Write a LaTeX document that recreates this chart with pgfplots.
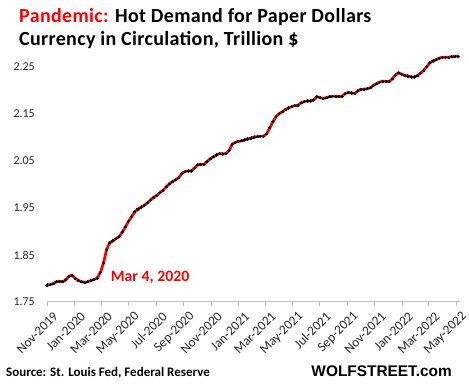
\documentclass[border=0pt]{standalone}
\usepackage{pgfplots}
\pgfplotsset{compat=1.18}
\usepackage{fontspec}
\setmainfont{Carlito}
\newfontfamily\arialfont{Liberation Sans}
\newfontfamily\titlefont[LetterSpace=1.7]{Carlito}
\definecolor{gridgray}{HTML}{D9D9D9}
\definecolor{axgray}{HTML}{BFBFBF}
\definecolor{ttred}{HTML}{FF0000}
\definecolor{txt}{HTML}{262626}
\begin{document}
\begin{tikzpicture}[x=1pt,y=1pt]
\begin{axis}[
  at={(47pt,89pt)}, anchor=south west,
  scale only axis, width=413pt, height=249pt,
  xmin=0, xmax=921, ymin=1.75, ymax=2.28,
  axis line style={draw=none},
  axis x line*=bottom,
  axis y line=none,
  ytick={1.75,1.85,1.95,2.05,2.15,2.25},
  yticklabels={1.75,1.85,1.95,2.05,2.15,2.25},
  xtick={0,61,121,182,243,305,366,427,486,547,608,670,731,792,851,912},
  xticklabels={Nov-2019,Jan-2020,Mar-2020,May-2020,Jul-2020,Sep-2020,Nov-2020,Jan-2021,Mar-2021,May-2021,Jul-2021,Sep-2021,Nov-2021,Jan-2022,Mar-2022,May-2022},
  tick align=outside, major tick length=4pt,
  xtick style={draw=axgray, line width=0.8pt},
  ymajorgrids, grid style={draw=gridgray, line width=1pt},
  xticklabel style={rotate=45, anchor=east, font=\fontsize{13.3}{15}\selectfont, text=txt, inner sep=0pt, xshift=0.5pt, yshift=-12pt},
  /pgf/number format/assume math mode=true,
  clip=false,
]
\addplot[draw=axgray, line width=1pt, forget plot] coordinates {(0,1.75) (921,1.75)};
\addplot[ttred, line width=2.8pt, mark=*, mark size=1.1pt, mark options={fill=black, draw=black, line width=0pt}] coordinates {
(0,1.786) (7,1.787) (14,1.789) (21,1.793) (28,1.794) (35,1.793) (42,1.797) (49,1.805) (56,1.807) (63,1.800)
(70,1.796) (77,1.793) (84,1.792) (91,1.793) (98,1.796) (105,1.798) (112,1.801) (119,1.813) (126,1.833) (133,1.862)
(140,1.876) (147,1.880) (154,1.885) (161,1.889) (168,1.899) (175,1.910) (182,1.922) (189,1.932) (196,1.942) (203,1.948)
(210,1.952) (217,1.956) (224,1.961) (231,1.967) (238,1.973) (245,1.977) (252,1.983) (259,1.988) (266,1.995) (273,2.002)
(280,2.006) (287,2.010) (294,2.015) (301,2.024) (308,2.028) (315,2.029) (322,2.029) (329,2.035) (336,2.042) (343,2.043)
(350,2.043) (357,2.049) (364,2.055) (371,2.059) (378,2.063) (385,2.066) (392,2.065) (399,2.066) (406,2.072) (413,2.086)
(420,2.090) (427,2.092) (434,2.093) (441,2.095) (448,2.097) (455,2.099) (462,2.101) (469,2.102) (476,2.103) (483,2.103)
(490,2.108) (497,2.121) (504,2.134) (511,2.145) (518,2.151) (525,2.155) (532,2.160) (539,2.163) (546,2.166) (553,2.168)
(560,2.169) (567,2.174) (574,2.177) (581,2.178) (588,2.178) (595,2.180) (602,2.187) (609,2.185) (616,2.183) (623,2.185)
(630,2.187) (637,2.188) (644,2.188) (651,2.187) (658,2.188) (665,2.194) (672,2.196) (679,2.195) (686,2.194) (693,2.199)
(700,2.203) (707,2.203) (714,2.204) (721,2.206) (728,2.211) (735,2.215) (742,2.218) (749,2.220) (756,2.220) (763,2.219)
(770,2.225) (777,2.233) (784,2.238) (791,2.235) (798,2.232) (805,2.231) (812,2.229) (819,2.229) (826,2.232) (833,2.237)
(840,2.243) (847,2.251) (854,2.259) (861,2.263) (868,2.266) (875,2.269) (882,2.271) (889,2.271) (896,2.271) (903,2.272)
(910,2.273) (917,2.273)
};
\node[anchor=base west, text=ttred, font=\bfseries\fontsize{15.8}{18}\selectfont, inner sep=0pt] at (axis cs:142,1.793) {Mar 4, 2020};
\end{axis}
% y tick labels (left side)
\foreach \v/\yy in {1.75/302,1.85/255,1.95/208,2.05/161,2.15/114,2.25/67}{
  \node[anchor=east, text=txt, font=\fontsize{12}{14}\selectfont, inner sep=0pt] at (35pt,{391-\yy}) {\v};
}
\node[anchor=base west, inner sep=0pt, font=\titlefont\bfseries\fontsize{20}{22}\selectfont] at (19pt,368pt) {\textcolor{ttred}{Pandemic:} Hot Demand for Paper Dollars};
\node[anchor=base west, inner sep=0pt, font=\titlefont\bfseries\fontsize{20}{22}\selectfont] at (19pt,345pt) {Currency in Circulation, Trillion \$};
\node[anchor=base west, inner sep=0pt, font=\bfseries\fontsize{13}{15}\selectfont] at (6pt,14pt) {Source: St. Louis Fed, Federal Reserve};
\node[anchor=base east, inner sep=0pt, font=\arialfont\bfseries\fontsize{15.4}{17}\selectfont] at (452pt,14pt) {WOLFSTREET.com};
\pgfresetboundingbox
\useasboundingbox (0,0) rectangle (469pt,391pt);
\end{tikzpicture}
\end{document}
